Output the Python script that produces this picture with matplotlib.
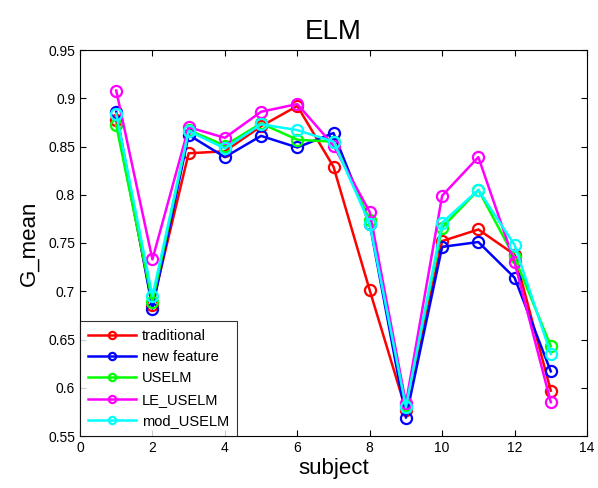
import matplotlib
matplotlib.use("Agg")
import matplotlib.pyplot as plt

plt.rcParams['font.family'] = ['Liberation Sans', 'DejaVu Sans']

subjects = [1, 2, 3, 4, 5, 6, 7, 8, 9, 10, 11, 12, 13]
traditional = [0.877, 0.686, 0.843, 0.845, 0.871, 0.892, 0.829, 0.701, 0.577, 0.752, 0.764, 0.738, 0.597]
new_feature = [0.886, 0.682, 0.862, 0.839, 0.861, 0.849, 0.864, 0.770, 0.569, 0.746, 0.751, 0.714, 0.617]
uselm = [0.872, 0.689, 0.867, 0.851, 0.874, 0.857, 0.855, 0.774, 0.582, 0.766, 0.805, 0.735, 0.643]
le_uselm = [0.908, 0.733, 0.870, 0.859, 0.886, 0.894, 0.851, 0.782, 0.584, 0.799, 0.839, 0.730, 0.585]
mod_uselm = [0.884, 0.695, 0.866, 0.848, 0.873, 0.867, 0.855, 0.770, 0.580, 0.771, 0.805, 0.748, 0.635]

series = [
    ("traditional", traditional, "#ff0000"),
    ("new feature", new_feature, "#0000ff"),
    ("USELM", uselm, "#00ff00"),
    ("LE_USELM", le_uselm, "#ff00ff"),
    ("mod_USELM", mod_uselm, "#00ffff"),
]

fig = plt.figure(figsize=(5.98, 4.88), dpi=100)
ax = fig.add_axes([80/598, 1-436/488, 507/598, 386/488])

for name, vals, col in series:
    ax.plot(subjects, vals, color=col, lw=1.8, marker='o', markersize=8,
            markerfacecolor='none', markeredgecolor=col, markeredgewidth=1.6, label=name)

ax.set_xlim(0, 14)
ax.set_ylim(0.55, 0.95)
ax.set_xticks([0, 2, 4, 6, 8, 10, 12, 14])
ax.set_yticks([0.55, 0.6, 0.65, 0.7, 0.75, 0.8, 0.85, 0.9, 0.95])
ax.set_yticklabels(['0.55', '0.6', '0.65', '0.7', '0.75', '0.8', '0.85', '0.9', '0.95'])
ax.tick_params(direction='in', top=True, right=True, labelsize=10, length=4)
ax.set_title("ELM", fontsize=20, pad=8)
ax.set_xlabel("subject", fontsize=16, labelpad=2)
ax.set_ylabel("G_mean", fontsize=16, labelpad=6)

leg = ax.legend(loc='lower left', fontsize=10.5, frameon=True, fancybox=False,
                edgecolor='black', borderaxespad=0, handlelength=3.3,
                handletextpad=0.4, markerscale=0.65,
                borderpad=0.55, labelspacing=0.5)
leg.get_frame().set_linewidth(0.8)

fig.savefig("out.png", dpi=100)
